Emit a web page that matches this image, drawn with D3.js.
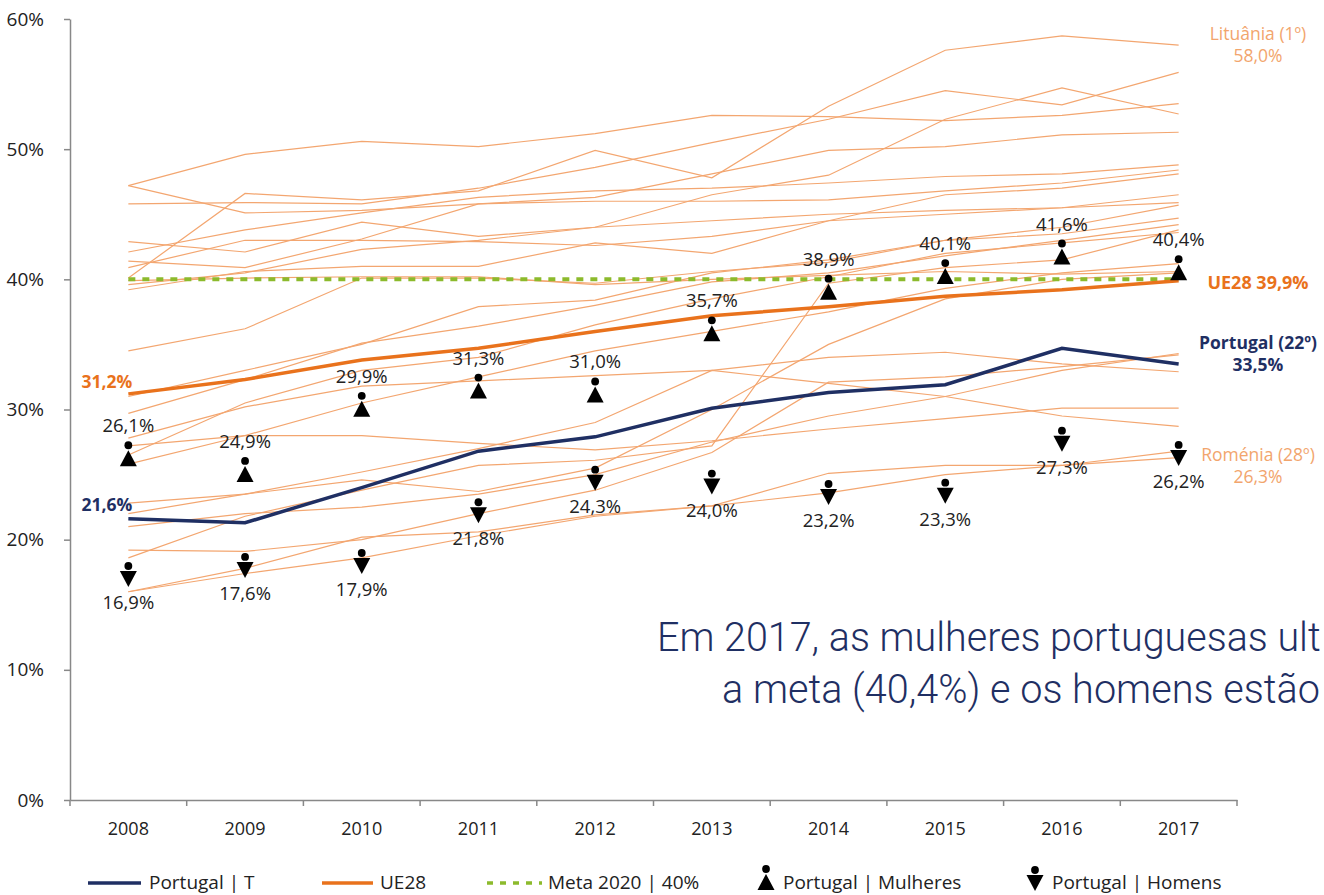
<!DOCTYPE html>
<html>
<head>
<meta charset="utf-8">
<script src="https://cdn.jsdelivr.net/npm/d3@7"></script>
<style>
  body { margin: 0; background: #fff; }
  svg { display: block; font-family: "Open Sans", sans-serif; }
</style>
</head>
<body>
<div id="vis"></div>
<script>
// years on the x axis
const years = ["2008","2009","2010","2011","2012","2013","2014","2015","2016","2017"];

// main series (%)
const portugal = [21.6, 21.3, 24.0, 26.8, 27.9, 30.1, 31.3, 31.9, 34.7, 33.5];
const ue28     = [31.2, 32.3, 33.8, 34.7, 36.0, 37.2, 37.9, 38.7, 39.2, 39.9];
const meta     = [40, 40, 40, 40, 40, 40, 40, 40, 40, 40];
const mulheres = [26.1, 24.9, 29.9, 31.3, 31.0, 35.7, 38.9, 40.1, 41.6, 40.4];
const homens   = [16.9, 17.6, 17.9, 21.8, 24.3, 24.0, 23.2, 23.3, 27.3, 26.2];

// other EU countries (thin lines)
const lituania = [40.1, 46.6, 46.1, 46.8, 49.9, 47.8, 53.3, 57.6, 58.7, 58.0];
const romenia  = [16.0, 17.4, 18.6, 20.3, 21.8, 22.6, 25.1, 25.7, 25.7, 26.3];
const others = [
  [47.2, 49.6, 50.6, 50.2, 51.2, 52.6, 52.5, 52.2, 52.6, 53.5],
  [47.2, 45.1, 45.3, 45.8, 46.3, 48.1, 49.9, 50.2, 51.1, 51.3],
  [45.8, 45.9, 45.8, 47.0, 48.6, 50.5, 52.3, 54.5, 53.4, 55.9],
  [42.9, 42.1, 44.4, 43.3, 44.0, 46.5, 48.0, 52.3, 54.7, 52.7],
  [42.1, 43.8, 45.1, 46.3, 46.8, 47.0, 47.4, 47.9, 48.1, 48.8],
  [41.4, 40.9, 43.1, 45.8, 46.0, 46.0, 46.1, 46.8, 47.4, 48.4],
  [40.9, 43.0, 43.0, 42.9, 42.6, 43.3, 44.5, 46.5, 47.0, 48.1],
  [39.6, 40.5, 42.3, 43.0, 44.0, 44.5, 45.0, 45.3, 45.5, 45.9],
  [39.2, 40.6, 41.0, 41.0, 42.8, 42.0, 44.5, 45.0, 45.5, 46.5],
  [39.9, 40.1, 40.2, 40.2, 39.6, 40.0, 40.3, 40.6, 40.4, 40.6],
  [34.5, 36.2, 40.1, 40.1, 39.7, 40.6, 41.3, 43.0, 44.0, 45.7],
  [31.0, 33.0, 35.0, 37.9, 38.4, 40.5, 41.5, 43.0, 43.5, 44.7],
  [29.7, 32.3, 35.1, 36.4, 38.0, 39.8, 40.5, 41.8, 43.0, 44.2],
  [18.6, 21.8, 23.8, 25.7, 26.1, 27.2, 39.7, 40.9, 41.5, 43.8],
  [26.5, 30.5, 33.0, 34.0, 36.5, 38.5, 40.2, 42.0, 42.8, 43.6],
  [25.8, 28.0, 30.5, 32.5, 34.5, 36.0, 37.5, 39.3, 40.5, 41.2],
  [22.8, 23.5, 24.6, 23.7, 25.5, 30.0, 35.0, 38.5, 40.0, 40.5],
  [27.2, 28.0, 28.0, 27.4, 26.9, 27.6, 28.5, 29.3, 30.1, 30.1],
  [16.0, 17.8, 20.2, 20.6, 21.9, 22.6, 23.6, 25.0, 25.7, 26.8],
  [27.8, 30.2, 31.8, 32.2, 32.6, 33.0, 32.0, 31.0, 29.5, 28.7],
  [19.2, 19.1, 20.0, 22.0, 23.8, 26.7, 32.1, 32.5, 33.3, 34.2],
  [22.0, 23.5, 25.2, 27.0, 29.0, 33.0, 34.0, 34.4, 33.5, 32.9],
  [21.0, 22.0, 22.5, 23.5, 25.0, 27.5, 29.5, 31.0, 33.0, 34.3]
];
const yTicks = [0, 10, 20, 30, 40, 50, 60];

const fmt = v => v.toFixed(1).replace(".", ",") + "%";

const width = 1324, height = 895;
const navy = "#1f2f63", orange = "#e9721c", thin = "#f3a670", green = "#8cba2c";

const svg = d3.select("#vis").append("svg")
  .attr("width", width).attr("height", height);

// scales
const x = d3.scaleBand().domain(years).range([70, 1237]).padding(0);
const cx = d => x(d) + x.bandwidth() / 2;
const y = d3.scaleLinear().domain([0, 60]).range([800, 19]);

// y axis
const yAxis = svg.append("g")
  .attr("transform", "translate(70,0)")
  .call(d3.axisLeft(y).tickValues(yTicks).tickFormat(d => d + "%").tickSize(6).tickSizeOuter(0).tickPadding(20));
yAxis.select(".domain").attr("stroke", "#888").attr("stroke-width", 1.5);
yAxis.selectAll(".tick line").attr("stroke", "#888").attr("stroke-width", 1.5);
yAxis.selectAll(".tick text").attr("font-size", 19).attr("fill", "#222").attr("font-family", "Open Sans");

// x axis (labels centred, ticks on the band edges)
const xAxis = svg.append("g")
  .attr("transform", "translate(0,800)")
  .call(d3.axisBottom(x).tickSize(0).tickPadding(22));
xAxis.select(".domain").attr("stroke", "#888").attr("stroke-width", 1.5);
xAxis.selectAll(".tick text").attr("font-size", 18).attr("fill", "#222").attr("font-family", "Open Sans");
svg.append("g").selectAll("line")
  .data(years.concat(["end"]))
  .join("line")
    .attr("x1", (d, i) => i < years.length ? x(d) : x(years[years.length - 1]) + x.bandwidth())
    .attr("x2", (d, i) => i < years.length ? x(d) : x(years[years.length - 1]) + x.bandwidth())
    .attr("y1", 800).attr("y2", 806)
    .attr("stroke", "#888").attr("stroke-width", 1.5);

const line = d3.line().x((d, i) => cx(years[i])).y(d => y(d));

// thin country lines
svg.append("g").selectAll("path")
  .data(others.concat([lituania, romenia]))
  .join("path")
    .attr("d", line)
    .attr("fill", "none")
    .attr("stroke", thin)
    .attr("stroke-width", 1.2);

// meta 2020
svg.append("path").datum(meta)
  .attr("d", line).attr("fill", "none")
  .attr("stroke", green).attr("stroke-width", 4)
  .attr("stroke-dasharray", "7,7");

// UE28
svg.append("path").datum(ue28)
  .attr("d", line).attr("fill", "none")
  .attr("stroke", orange).attr("stroke-width", 3.5);

// Portugal total
svg.append("path").datum(portugal)
  .attr("d", line).attr("fill", "none")
  .attr("stroke", navy).attr("stroke-width", 3.5);

// woman / man markers
function woman(g, px, py) {
  g.append("circle").attr("cx", px).attr("cy", py - 15).attr("r", 3.9).attr("fill", "#000");
  g.append("path").attr("d", `M${px},${py - 10}L${px + 8.5},${py + 6}L${px - 8.5},${py + 6}Z`).attr("fill", "#000");
}
function man(g, px, py) {
  g.append("circle").attr("cx", px).attr("cy", py - 14).attr("r", 3.9).attr("fill", "#000");
  g.append("path").attr("d", `M${px - 8.5},${py - 9}L${px + 8.5},${py - 9}L${px},${py + 7}Z`).attr("fill", "#000");
}

const gm = svg.append("g");
mulheres.forEach((v, i) => {
  woman(gm, cx(years[i]), y(v));
  gm.append("text").attr("x", cx(years[i])).attr("y", y(v) - 28)
    .attr("text-anchor", "middle").attr("font-size", 18.5).attr("fill", "#222").text(fmt(v));
});
homens.forEach((v, i) => {
  man(gm, cx(years[i]), y(v));
  gm.append("text").attr("x", cx(years[i])).attr("y", y(v) + 29)
    .attr("text-anchor", "middle").attr("font-size", 18.5).attr("fill", "#222").text(fmt(v));
});

// start labels
svg.append("text").attr("x", cx(years[0]) + 4).attr("y", y(ue28[0]) - 6)
  .attr("text-anchor", "end").attr("font-size", 17.5).attr("font-weight", "bold")
  .attr("fill", orange).text(fmt(ue28[0]));
svg.append("text").attr("x", cx(years[0]) + 4).attr("y", y(portugal[0]) - 8)
  .attr("text-anchor", "end").attr("font-size", 17.5).attr("font-weight", "bold")
  .attr("fill", navy).text(fmt(portugal[0]));

// end labels, two separate lines each
const endX = 1258;
function endLabel(lines, yPos, color, bold) {
  lines.forEach((s, i) => svg.append("text")
    .attr("x", endX).attr("y", yPos + i * 22)
    .attr("text-anchor", "middle")
    .attr("font-size", bold ? 17.5 : 17.5).attr("fill", color)
    .attr("font-weight", bold ? "bold" : "normal")
    .text(s));
}
endLabel(["Lituânia (1º)", fmt(lituania[9])], 40, "#f2a56d", false);
endLabel(["Portugal (22º)", fmt(portugal[9])], 349, navy, true);
endLabel(["Roménia (28º)", fmt(romenia[9])], 461, "#f2a56d", false);
svg.append("text").attr("x", 1258).attr("y", y(ue28[9]) + 8)
  .attr("text-anchor", "middle").attr("font-size", 18).attr("font-weight", "bold")
  .attr("fill", orange).text("UE28 " + fmt(ue28[9]));

// big overlay note, squeezed horizontally like a condensed face
const note = svg.append("g").attr("fill", "#1f2f63")
  .attr("font-family", "Roboto").attr("font-weight", 300).attr("font-size", 40);
function condensed(txt, x0, y0, w) {
  const t = note.append("text").attr("x", 0).attr("y", 0).text(txt);
  const natural = t.node().getComputedTextLength();
  t.attr("transform", `translate(${x0},${y0}) scale(${w / natural},1)`);
}
condensed("Em 2017, as mulheres portuguesas ult", 657, 651, 664);
condensed("a meta (40,4%) e os homens estão", 722, 703, 598);

// legend
const ly = 883;
const leg = svg.append("g").attr("font-size", 19).attr("fill", "#222");
leg.append("line").attr("x1", 88).attr("x2", 141).attr("y1", ly).attr("y2", ly).attr("stroke", navy).attr("stroke-width", 3.5);
leg.append("text").attr("x", 149).attr("y", ly + 6).text("Portugal | T");
leg.append("line").attr("x1", 322).attr("x2", 373).attr("y1", ly).attr("y2", ly).attr("stroke", orange).attr("stroke-width", 3.5);
leg.append("text").attr("x", 380).attr("y", ly + 6).text("UE28");
leg.append("line").attr("x1", 487).attr("x2", 542).attr("y1", ly).attr("y2", ly).attr("stroke", green).attr("stroke-width", 3.5).attr("stroke-dasharray", "6,7");
leg.append("text").attr("x", 548).attr("y", ly + 6).text("Meta 2020 | 40%");
woman(leg, 766, ly + 1);
leg.append("text").attr("x", 783).attr("y", ly + 6).text("Portugal | Mulheres");
man(leg, 1035, ly + 1);
leg.append("text").attr("x", 1052).attr("y", ly + 6).text("Portugal | Homens");
</script>
</body>
</html>
